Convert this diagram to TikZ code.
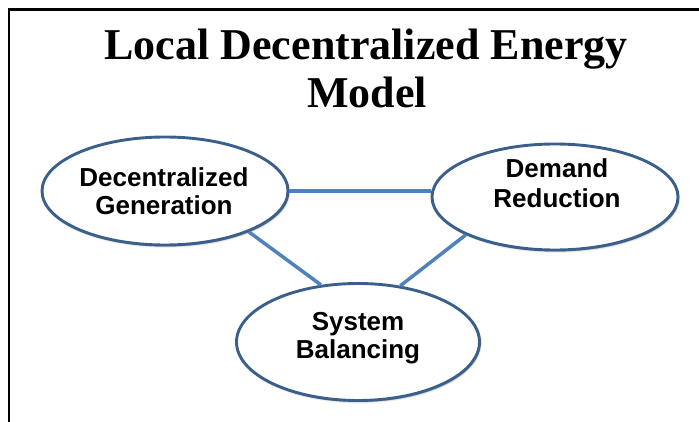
\documentclass[tikz,border=0pt]{standalone}
\usepackage{fontspec}
\setmainfont{Liberation Serif}
\newfontfamily\lblfont{Liberation Sans}
\usetikzlibrary{shapes.geometric,shadows.blur}
\definecolor{ringblue}{HTML}{3A5F8B}
\definecolor{linkblue}{HTML}{4F81BD}
\tikzset{
  bubble/.style={ellipse, draw=ringblue, line width=2.9pt, fill=white, inner sep=0pt,
    blur shadow={shadow xshift=0.8pt, shadow yshift=-1.2pt, shadow blur steps=6, shadow opacity=45}},
  lbl/.style={anchor=base, inner sep=0pt, font=\lblfont\bfseries\fontsize{26}{29}\selectfont},
  ttl/.style={anchor=base, inner sep=0pt, font=\bfseries\fontsize{44}{50}\selectfont},
  link/.style={draw=linkblue, line width=3.5pt},
  frame/.style={draw=black, line width=2.2pt}
}
\begin{document}
\begin{tikzpicture}[x=1pt,y=-1pt]
\useasboundingbox (0,0) rectangle (699,422);
% frame
\coordinate (fb) at (9,423);
\coordinate (fc) at (9,9.5);
\coordinate (fr) at (700,9.5);
\draw[frame] (fb) -- (fc) -- (fr);
% title
\node[ttl] (t1) at (366,60) {Local Decentralized Energy};
\node[ttl] (t2) at (367,108) {Model};
% ellipses
\node[bubble, minimum width=246pt, minimum height=108pt] (gen) at (165,191) {};
\node[bubble, minimum width=246pt, minimum height=106pt] (dr) at (555,197) {};
\node[bubble, minimum width=243pt, minimum height=117pt] (sb) at (358,342) {};
% links
\draw[link] (gen.east) -- (dr.west |- gen.east);
\draw[link] (gen.-26) -- (sb.123);
\draw[link] (dr.203) -- (sb.53);
% labels
\node[lbl] (g1) at (164,187) {Decentralized};
\node[lbl] (g2) at (164,215) {Generation};
\node[lbl] (d1) at (557,178) {Demand};
\node[lbl] (d2) at (557,208) {Reduction};
\node[lbl] (s1) at (358,330) {System};
\node[lbl] (s2) at (358,358) {Balancing};
\end{tikzpicture}
\end{document}
